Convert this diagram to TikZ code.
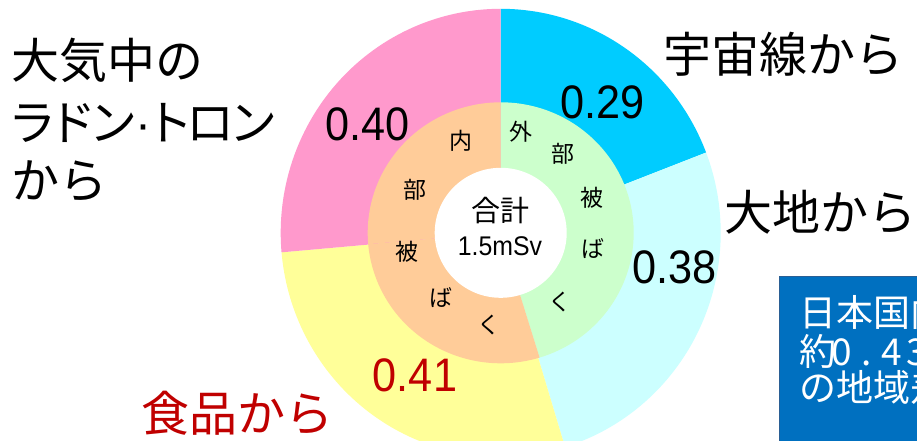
\documentclass[tikz,border=0pt]{standalone}
\usepackage{fontspec}
\newfontfamily\jp{Noto Sans CJK JP}
\newfontfamily\jpp[RawFeature=+palt]{Noto Sans CJK JP}
\newfontfamily\lsans{Liberation Sans}
\newfontfamily\numf[FakeStretch=0.92]{Liberation Sans}
\definecolor{radonc}{HTML}{FF99CC}
\definecolor{cosmicc}{HTML}{00CCFF}
\definecolor{groundc}{HTML}{CCFFFF}
\definecolor{foodc}{HTML}{FFFF99}
\definecolor{intc}{HTML}{FFCC99}
\definecolor{extc}{HTML}{CCFFCC}
\definecolor{foodtxt}{HTML}{C00000}
\definecolor{boxc}{HTML}{0070C0}
\definecolor{boxline}{HTML}{2A5F94}
\newcommand{\hw}[1]{\makebox[25pt]{#1}}
\tikzset{
  bigjp/.style={font=\jp\fontsize{48}{48}\selectfont, anchor=west, inner sep=0pt},
  numlabel/.style={font=\numf\fontsize{47}{47}\selectfont, inner sep=0pt},
  ringchar/.style={font=\jp\fontsize{23}{23}\selectfont, inner sep=0pt},
  boxtxt/.style={font=\jp\fontsize{37}{37}\selectfont, anchor=west, inner sep=0pt, text=white},
}
\begin{document}
\begin{tikzpicture}[x=1pt,y=-1pt]
\useasboundingbox (0,0) rectangle (917,441);
\clip (0,0) rectangle (917,441);
\fill[white] (0,0) rectangle (917,441);
\coordinate (C) at (500.7,232.8);
% outer ring
\begin{scope}[shift={(C)}]
\fill[cosmicc] (0,0) -- (-90:220 and 224) arc[start angle=-90,end angle=-21,x radius=220,y radius=224] -- cycle;
\fill[groundc] (0,0) -- (-21:220 and 224) arc[start angle=-21,end angle=73,x radius=220,y radius=224] -- cycle;
\fill[foodc] (0,0) -- (73:220 and 224) arc[start angle=73,end angle=175,x radius=220,y radius=224] -- cycle;
\fill[radonc] (0,0) -- (175:220 and 224) arc[start angle=175,end angle=270,x radius=220,y radius=224] -- cycle;
% middle ring
\fill[extc] (0,0) -- (-90:133 and 130.5) arc[start angle=-90,end angle=73,x radius=133,y radius=130.5] -- cycle;
\fill[intc] (0,0) -- (73:133 and 130.5) arc[start angle=73,end angle=175,x radius=133,y radius=130.5] -- cycle;
\fill[intc] (0,0) -- (175:133 and 130.5) arc[start angle=175,end angle=270,x radius=133,y radius=130.5] -- cycle;
% hole
\fill[white] (0,0) ellipse[x radius=66,y radius=65];
\end{scope}
% centre text
\node[font=\jp\fontsize{29}{29}\selectfont, inner sep=0pt] (total) at (500,210.7) {合計};
\node[font=\numf\fontsize{27}{27}\selectfont, inner sep=0pt] (totalv) at (500,246.7) {1.5mSv};
% ring characters: external
\node[ringchar] (e1) at (520.7,131.7) {外};
\node[ringchar] (e2) at (563.3,154) {部};
\node[ringchar] (e3) at (591.7,198.3) {被};
\node[ringchar] (e4) at (593.3,248.3) {ば};
\node[ringchar] (e5) at (560,301.7) {く};
% internal
\node[ringchar] (i1) at (460.7,140.7) {内};
\node[ringchar] (i2) at (415,190) {部};
\node[ringchar] (i3) at (406.7,251.7) {被};
\node[ringchar] (i4) at (440.7,297.7) {ば};
\node[ringchar] (i5) at (489.3,325) {く};
% values
\node[numlabel] (v1) at (602.7,102.7) {0.29};
\node[numlabel] (v2) at (367.3,124) {0.40};
\node[numlabel] (v3) at (674.3,267.5) {0.38};
\node[numlabel, text=foodtxt] (v4) at (415,375) {0.41};
% category labels
\node[bigjp] (l1a) at (11,60.8) {大気中の};
\node[bigjp, font=\jpp\fontsize{48}{48}\selectfont] (l1b) at (12,123) {ラドン{\lsans\kern1pt·\kern1pt}ト\kern-2ptロ\kern-2ptン};
\node[bigjp] (l1c) at (11,181) {から};
\node[bigjp] (l2) at (663,54) {宇宙線から};
\node[bigjp] (l3) at (724.5,212.5) {大地から};
\node[bigjp, text=foodtxt] (l4) at (141,413) {食品から};
% blue box
\draw[fill=boxc, draw=boxline, line width=1.5pt] (779.5,276.5) rectangle (940,470);
\node[boxtxt] (b1) at (799,312.5) {日本国内でも};
\node[boxtxt] (b2) at (799,351) {約\kern-7pt\hw{0}\hw{.}\hw{4}\hw{3}};
\node[boxtxt] (b3) at (799,387) {の地域差};
\end{tikzpicture}
\end{document}
